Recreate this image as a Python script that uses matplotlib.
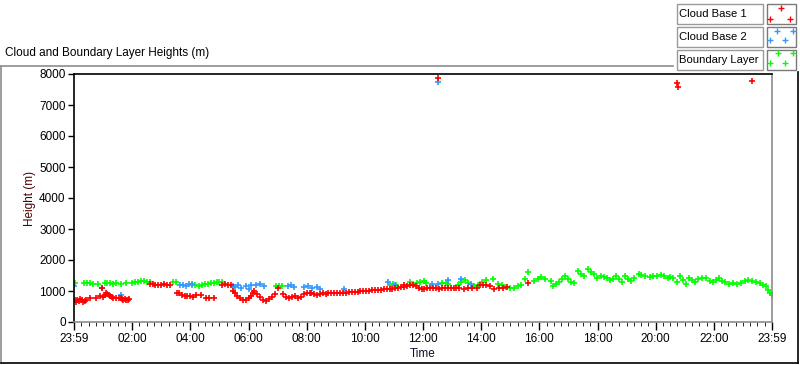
import matplotlib
matplotlib.use('Agg')
import matplotlib.pyplot as plt
from matplotlib.lines import Line2D
from matplotlib.patches import Rectangle

plt.rcParams['font.family'] = ['Liberation Sans', 'DejaVu Sans']

# hours since 23:59 of the previous day
x_ticks = [0, 2, 4, 6, 8, 10, 12, 14, 16, 18, 20, 22, 24]
x_labels = ['23:59', '02:00', '04:00', '06:00', '08:00', '10:00', '12:00',
            '14:00', '16:00', '18:00', '20:00', '22:00', '23:59']
y_ticks = [0, 1000, 2000, 3000, 4000, 5000, 6000, 7000, 8000]

series_names = ['Cloud Base 1', 'Cloud Base 2', 'Boundary Layer']
series_colors = ['#ff0000', '#3399ff', '#00ff00']

# Cloud Base 1 (red)
cb1_t = [0.02, 0.07, 0.12, 0.17, 0.22, 0.27, 0.32, 0.37, 0.42, 0.55, 0.75, 0.9,
         0.95, 1.0, 1.05, 1.1, 1.15, 1.2, 1.25, 1.3, 1.35, 1.45, 1.55, 1.6, 1.65,
         1.7, 1.75, 1.8, 1.85, 1.9,
         2.6, 2.7, 2.8, 2.9, 3.0, 3.1, 3.2, 3.3,
         3.55, 3.6, 3.7, 3.8, 3.9, 4.0, 4.1, 4.2, 4.35, 4.55, 4.65, 4.8,
         5.1, 5.2, 5.3, 5.4,
         5.45, 5.55, 5.6, 5.7, 5.8, 5.9, 6.0, 6.1, 6.15, 6.2, 6.3, 6.4, 6.5, 6.6,
         6.7, 6.8, 6.9, 7.0, 7.2, 7.3, 7.4, 7.5, 7.6, 7.7, 7.8, 7.9, 8.0, 8.1,
         8.15, 8.25, 8.35, 8.45, 8.55, 8.65, 8.75, 8.85, 8.95, 9.05, 9.15, 9.25,
         9.35, 9.45, 9.55, 9.65, 9.75, 9.85, 9.95, 10.05, 10.15, 10.25, 10.35,
         10.45, 10.55, 10.65, 10.75, 10.85, 10.95, 11.05, 11.15, 11.25, 11.33,
         11.35, 11.45, 11.55, 11.65, 11.75, 11.85, 11.95, 12.05, 12.15, 12.25,
         12.35, 12.45, 12.55, 12.65, 12.75, 12.85, 12.95, 13.05, 13.15, 13.25,
         13.4, 13.55, 13.7, 13.85, 13.95, 14.05, 14.15, 14.3, 14.45, 14.6, 14.75,
         14.9, 15.6,
         12.5, 20.72, 20.76, 23.3]
cb1_h = [700, 650, 720, 680, 740, 700, 660, 690, 710, 780, 760, 830,
         1100, 820, 880, 930, 900, 860, 830, 800, 780, 790, 760, 780, 740,
         720, 730, 710, 720, 730,
         1230, 1210, 1200, 1190, 1200, 1210, 1180, 1200,
         950, 930, 880, 850, 830, 840, 820, 860, 880, 790, 770, 790,
         1200, 1210, 1190, 1200,
         1000, 920, 850, 780, 720, 700, 760, 850, 940, 1000, 900, 800, 720, 680,
         740, 820, 900, 1100, 900, 820, 760, 800, 850, 760, 820, 900, 950, 920,
         930, 900, 880, 900, 920, 900, 930, 940, 930, 930, 940, 930,
         950, 960, 970, 970, 980, 990, 990, 1000, 1010, 1020, 1030,
         1030, 1040, 1050, 1060, 1070, 1080, 1090, 1110, 1130, 1200,
         1120, 1150, 1190, 1180, 1150, 1090, 1070, 1080, 1090, 1100,
         1090, 1100, 1080, 1090, 1110, 1100, 1090, 1100, 1110, 1100,
         1080, 1100, 1110, 1110, 1180, 1200, 1190, 1150, 1080, 1090, 1100,
         1120, 1270,
         7860, 7710, 7570, 7760]

# Cloud Base 2 (blue)
cb2_t = [0.0, 0.95, 1.6, 3.63, 3.75, 3.85, 3.97, 4.05,
         5.45, 5.55, 5.65, 5.75, 5.9, 6.0, 6.1, 6.25, 6.4, 6.55,
         7.35, 7.45, 7.55, 7.9, 8.05, 8.2, 8.35, 8.45, 9.3,
         10.8, 11.05, 12.3, 12.5, 12.87, 13.3, 13.64, 12.53]
cb2_h = [1170, 1110, 860, 1200, 1180, 1150, 1220, 1230,
         1150, 1120, 1200, 1100, 1160, 1080, 1180, 1200, 1220, 1150,
         1150, 1200, 1120, 1130, 1150, 1100, 1120, 1060, 1080,
         1300, 1200, 1230, 1230, 1340, 1390, 1230, 7730]

# Boundary Layer (green)
bl_t = [0.05, 0.35, 0.45, 0.55, 0.65, 0.83, 1.07, 1.15, 1.25, 1.35, 1.45, 1.6,
        1.8, 2.0, 2.1, 2.2, 2.3, 2.4, 2.5, 2.6,
        3.4, 3.5, 4.05, 4.15, 4.3, 4.4, 4.5, 4.6, 4.7, 4.8, 4.9, 5.0, 5.1,
        6.95, 7.05, 7.15,
        10.88, 10.98, 11.08, 11.57, 11.67, 11.81, 11.91, 12.02, 12.12,
        12.67, 12.78, 12.85,
        13.19, 13.29, 13.43, 13.54, 13.74, 13.88, 14.02, 14.16, 14.4, 14.57,
        14.71, 14.85, 14.99, 15.12, 15.25, 15.37, 15.5, 15.61, 15.8, 15.95,
        16.06, 16.2, 16.4, 16.47, 16.57, 16.68, 16.78, 16.88, 16.99, 17.09,
        17.2, 17.33, 17.44, 17.54, 17.68, 17.78, 17.89, 17.99, 18.13, 18.23,
        18.34, 18.44, 18.54, 18.65, 18.75, 18.85, 18.96, 19.06, 19.16, 19.27,
        19.41, 19.51, 19.65, 19.79, 19.92, 20.06, 20.17, 20.27, 20.41, 20.51,
        20.61, 20.72, 20.82, 20.93, 21.03, 21.13, 21.24, 21.34, 21.44, 21.58,
        21.72, 21.86, 21.96, 22.06, 22.17, 22.27, 22.38, 22.51, 22.65, 22.79,
        22.93, 23.07, 23.17, 23.31, 23.45, 23.58, 23.69, 23.79, 23.86, 23.93,
        24.0]
bl_h = [1270, 1250, 1270, 1260, 1240, 1230, 1250, 1270, 1260, 1240, 1250, 1240,
        1260, 1270, 1290, 1300, 1310, 1320, 1300, 1280,
        1300, 1290, 1180, 1190, 1170, 1190, 1210, 1230, 1250, 1270, 1290, 1300, 1290,
        1160, 1170, 1150,
        1200, 1210, 1190, 1290, 1220, 1250, 1280, 1330, 1260,
        1270, 1260, 1240,
        1200, 1280, 1350, 1250, 1150, 1200, 1280, 1350, 1380, 1230,
        1180, 1130, 1100, 1100, 1150, 1200, 1400, 1620, 1330, 1400,
        1460, 1380, 1330, 1165, 1230, 1300, 1400, 1480, 1400, 1300,
        1270, 1630, 1560, 1470, 1700, 1620, 1550, 1420, 1470, 1440,
        1410, 1350, 1380, 1480, 1400, 1300, 1500, 1400, 1330, 1430,
        1540, 1520, 1490, 1450, 1470, 1500, 1530, 1470, 1420, 1450,
        1410, 1300, 1500, 1370, 1240, 1430, 1360, 1280, 1400, 1410,
        1410, 1330, 1300, 1360, 1410, 1330, 1280, 1240, 1250, 1240,
        1260, 1330, 1370, 1330, 1300, 1260, 1190, 1150, 1020, 940,
        880]

W, H = 800, 365
fig = plt.figure(figsize=(W / 100, H / 100), dpi=100)
fig.patch.set_facecolor('white')


def fx(px):
    return px / W


def fy(py):
    return 1 - py / H


ax = fig.add_axes([fx(74), fy(322), fx(772) - fx(74), fy(74) - fy(322)])

for t, h, c in [(bl_t, bl_h, series_colors[2]), (cb2_t, cb2_h, series_colors[1]),
                (cb1_t, cb1_h, series_colors[0])]:
    ax.plot(t, h, linestyle='none', marker='+', color=c, markersize=4.2,
            markeredgewidth=1.2)

ax.set_xlim(0, 24)
ax.set_ylim(0, 8000)
ax.set_xticks(x_ticks)
ax.set_xticklabels(x_labels)
ax.set_xticks([i * 0.25 for i in range(97)], minor=True)
ax.set_yticks(y_ticks)
ax.set_yticklabels([str(v) for v in y_ticks])
ax.tick_params(axis='both', labelsize=8.5, color='black', width=1)
ax.tick_params(axis='x', which='major', length=6, pad=2)
ax.tick_params(axis='x', which='minor', length=3)
ax.tick_params(axis='y', length=4, pad=2)
ax.spines['left'].set_color('black')
ax.spines['top'].set_color('black')
ax.spines['right'].set_color('#8c8c8c')
ax.spines['bottom'].set_color('#8c8c8c')
for s in ax.spines.values():
    s.set_linewidth(1.2)
ax.set_ylabel('Height (m)', fontsize=8.5, color='#4a0000', labelpad=2)
ax.set_xlabel('Time', fontsize=8.5, color='#101030', labelpad=2)

# title and outer frame
fig.text(fx(5), fy(53), 'Cloud and Boundary Layer Heights (m)', fontsize=8.5,
         va='center', ha='left')
fig.add_artist(Line2D([fx(1), fx(1)], [fy(66), fy(363)], color='#8c8c8c', lw=1.2))
fig.add_artist(Line2D([fx(1), fx(673)], [fy(66), fy(66)], color='#8c8c8c', lw=1.2))
fig.add_artist(Line2D([fx(1), fx(798)], [fy(363), fy(363)], color='black', lw=1.2))
fig.add_artist(Line2D([fx(798), fx(798)], [fy(72), fy(363)], color='black', lw=1.2))

# legend boxes
swatch_marks = [
    [(781, 8), (770, 19), (790, 19)],
    [(777, 31), (793, 31), (770, 40), (785, 40)],
    [(778, 53), (793, 53), (770, 63), (785, 63)],
]
for i, (name, col) in enumerate(zip(series_names, series_colors)):
    top = 4 + i * 23
    fig.add_artist(Rectangle((fx(677), fy(top + 20)), fx(763) - fx(677),
                             fy(top) - fy(top + 20), facecolor='white',
                             edgecolor='#9a9a9a', lw=1.0))
    fig.text(fx(679), fy(top + 10), name, fontsize=8.1, va='center', ha='left')
    fig.add_artist(Rectangle((fx(767), fy(top + 20)), fx(796) - fx(767),
                             fy(top) - fy(top + 20), facecolor='white',
                             edgecolor='#7a7a7a', lw=1.0))
    for (px, py) in swatch_marks[i]:
        fig.add_artist(Line2D([fx(px)], [fy(py)], linestyle='none', marker='+',
                              color=col, markersize=4.0, markeredgewidth=1.0))

fig.savefig('out.png', dpi=100)
